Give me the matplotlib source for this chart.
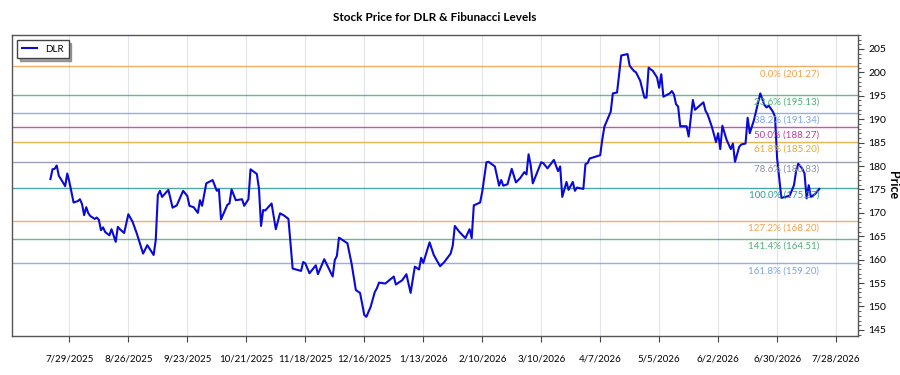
import matplotlib
matplotlib.use("Agg")
import matplotlib.pyplot as plt
from matplotlib.ticker import MultipleLocator
import pandas as pd

plt.rcParams['font.family'] = ['Lato', 'DejaVu Sans']

# DLR closes
dates = [
    "2025-07-20", "2025-07-21", "2025-07-22", "2025-07-23", "2025-07-24", "2025-07-25", "2025-07-27", "2025-07-28",
    "2025-07-29", "2025-07-31", "2025-08-02", "2025-08-03", "2025-08-04", "2025-08-05", "2025-08-06", "2025-08-07",
    "2025-08-08", "2025-08-10", "2025-08-11", "2025-08-12", "2025-08-13", "2025-08-14", "2025-08-15", "2025-08-17",
    "2025-08-18", "2025-08-20", "2025-08-21", "2025-08-22", "2025-08-24", "2025-08-26", "2025-08-28", "2025-08-30",
    "2025-09-02", "2025-09-04", "2025-09-05", "2025-09-07", "2025-09-08", "2025-09-09", "2025-09-10", "2025-09-11",
    "2025-09-14", "2025-09-16", "2025-09-18", "2025-09-21", "2025-09-23", "2025-09-24", "2025-09-26", "2025-09-28",
    "2025-09-29", "2025-09-30", "2025-10-02", "2025-10-05", "2025-10-07", "2025-10-08", "2025-10-09", "2025-10-12",
    "2025-10-13", "2025-10-14", "2025-10-16", "2025-10-19", "2025-10-20", "2025-10-22", "2025-10-23", "2025-10-26",
    "2025-10-27", "2025-10-28", "2025-10-29", "2025-10-30", "2025-11-02", "2025-11-04", "2025-11-06", "2025-11-08",
    "2025-11-10", "2025-11-12", "2025-11-16", "2025-11-17", "2025-11-18", "2025-11-20", "2025-11-23", "2025-11-24",
    "2025-11-27", "2025-12-01", "2025-12-02", "2025-12-03", "2025-12-04", "2025-12-08", "2025-12-10", "2025-12-12",
    "2025-12-14", "2025-12-16", "2025-12-17", "2025-12-19", "2025-12-21", "2025-12-22", "2025-12-23", "2025-12-26",
    "2025-12-30", "2025-12-31", "2026-01-03", "2026-01-05", "2026-01-07", "2026-01-09", "2026-01-11", "2026-01-12",
    "2026-01-13", "2026-01-16", "2026-01-18", "2026-01-21", "2026-01-23", "2026-01-26", "2026-01-27", "2026-01-28",
    "2026-01-30", "2026-02-02", "2026-02-04", "2026-02-05", "2026-02-06", "2026-02-09", "2026-02-10", "2026-02-12",
    "2026-02-13", "2026-02-16", "2026-02-18", "2026-02-19", "2026-02-20", "2026-02-22", "2026-02-24", "2026-02-26",
    "2026-02-28", "2026-03-02", "2026-03-03", "2026-03-04", "2026-03-05", "2026-03-06", "2026-03-10", "2026-03-11",
    "2026-03-13", "2026-03-16", "2026-03-18", "2026-03-19", "2026-03-20", "2026-03-22", "2026-03-23", "2026-03-25",
    "2026-03-26", "2026-03-27", "2026-03-30", "2026-03-31", "2026-04-01", "2026-04-02", "2026-04-07", "2026-04-08",
    "2026-04-09", "2026-04-12", "2026-04-13", "2026-04-15", "2026-04-17", "2026-04-20", "2026-04-21", "2026-04-23",
    "2026-04-24", "2026-04-26", "2026-04-28", "2026-04-29", "2026-04-30", "2026-05-02", "2026-05-04", "2026-05-05",
    "2026-05-06", "2026-05-07", "2026-05-10", "2026-05-11", "2026-05-12", "2026-05-13", "2026-05-14", "2026-05-15",
    "2026-05-18", "2026-05-19", "2026-05-21", "2026-05-22", "2026-05-26", "2026-05-27", "2026-05-28", "2026-05-30",
    "2026-06-01", "2026-06-02", "2026-06-03", "2026-06-04", "2026-06-06", "2026-06-08", "2026-06-09", "2026-06-10",
    "2026-06-12", "2026-06-13", "2026-06-15", "2026-06-16", "2026-06-17", "2026-06-19", "2026-06-22", "2026-06-24",
    "2026-06-25", "2026-06-26", "2026-06-28", "2026-06-29", "2026-06-30", "2026-07-02", "2026-07-04", "2026-07-06",
    "2026-07-08", "2026-07-09", "2026-07-10", "2026-07-12", "2026-07-13", "2026-07-14", "2026-07-15", "2026-07-16",
    "2026-07-18", "2026-07-20",
]
prices = [
    177.2, 179.3, 179.4, 180.1, 177.9, 177.2, 175.7, 178.4,
    176.6, 172.2, 172.5, 172.9, 171.9, 169.5, 171.2, 169.9,
    169.3, 168.7, 169.0, 168.5, 166.3, 166.9, 165.9, 165.2,
    166.5, 163.8, 167.0, 166.5, 165.7, 169.7, 168.1, 165.6,
    161.3, 163.1, 162.4, 161.0, 164.2, 173.8, 174.7, 173.4,
    174.9, 171.1, 171.6, 174.7, 173.6, 171.5, 171.2, 170.0,
    172.7, 171.5, 176.3, 177.0, 174.7, 175.0, 168.6, 171.7,
    172.0, 175.0, 172.7, 172.9, 171.5, 172.9, 179.3, 178.3,
    175.2, 167.2, 170.6, 170.5, 172.0, 166.5, 169.9, 169.4,
    168.7, 158.1, 157.6, 159.5, 159.2, 157.1, 158.8, 156.9,
    160.1, 156.4, 159.9, 160.8, 164.7, 163.5, 159.1, 153.5,
    152.9, 148.2, 147.8, 149.9, 153.1, 153.9, 155.1, 154.9,
    156.4, 154.7, 155.6, 156.9, 152.9, 158.5, 157.9, 160.4,
    159.3, 163.7, 161.0, 158.6, 159.5, 161.3, 163.0, 167.2,
    166.0, 164.6, 166.5, 164.6, 171.6, 172.2, 174.5, 180.8,
    180.9, 179.9, 175.8, 177.0, 175.8, 176.1, 179.4, 176.5,
    177.4, 178.7, 178.2, 182.5, 180.2, 176.3, 180.8, 180.6,
    179.5, 181.3, 178.9, 179.9, 173.4, 176.6, 174.9, 176.6,
    174.7, 175.4, 175.1, 180.4, 180.6, 181.6, 182.3, 185.7,
    188.4, 191.6, 195.5, 195.7, 203.6, 203.9, 201.4, 200.3,
    200.0, 198.2, 194.6, 194.6, 201.0, 200.3, 198.9, 196.7,
    199.6, 194.8, 195.5, 196.0, 195.3, 193.2, 192.7, 188.5,
    188.5, 186.3, 194.1, 192.0, 193.6, 191.8, 191.0, 188.4,
    185.1, 187.0, 183.6, 188.6, 185.6, 183.6, 184.8, 180.9,
    184.1, 184.6, 184.8, 190.3, 187.0, 189.8, 195.5, 193.0,
    192.5, 192.9, 191.6, 190.5, 181.6, 173.2, 173.4, 173.7,
    175.9, 178.9, 180.5, 179.4, 178.4, 173.1, 175.9, 173.4,
    174.0, 175.1,
]

fib_pcts = [0.0, 23.6, 38.2, 50.0, 61.8, 78.6, 100.0, 127.2, 141.4, 161.8]
fib_prices = [201.27, 195.13, 191.34, 188.27, 185.20, 180.83, 175.27, 168.20, 164.51, 159.20]
fib_colors = ['#f5a04a', '#4fae78', '#7aa4e6', '#c2389a', '#e6a83a',
              '#8a90a8', '#2a9a98', '#f5a04a', '#4fae78', '#7aa4e6']

tick_dates = pd.date_range("2025-07-29", periods=14, freq="28D")

dates = pd.to_datetime(dates)

fig = plt.figure(figsize=(9, 3.75), dpi=100)
ax = fig.add_axes([0.0133, 0.104, 0.9397, 0.803])

ax.plot(dates, prices, color='#0a0ad8', linewidth=1.5, label='DLR', zorder=3)

for pct, lvl, col in zip(fib_pcts, fib_prices, fib_colors):
    ax.axhline(lvl, color=col, linewidth=1.0, alpha=0.85, zorder=2)
    ax.text(dates[-1], lvl - 0.6, f"{pct:.1f}% ({lvl:.2f})", color=col,
            fontsize=7, ha='right', va='top', zorder=4)

ax.set_ylim(143.7, 208.0)
ax.yaxis.tick_right()
ax.yaxis.set_label_position('right')
ax.yaxis.set_major_locator(MultipleLocator(5))
ax.yaxis.set_minor_locator(MultipleLocator(1))
ax.tick_params(axis='y', which='major', labelsize=7.5, length=4, color='#444444')
ax.tick_params(axis='y', which='minor', length=2, color='#444444')
ax.set_ylabel('Price', fontsize=9, fontweight='bold', rotation=270, labelpad=9)

ax.set_xticks(tick_dates)
ax.set_xticklabels([f"{d.month}/{d.day}/{d.year}" for d in tick_dates])
ax.tick_params(axis='x', labelsize=7, length=4, pad=9, color='#444444')
ax.grid(axis='x', color='#e3e3ea', linewidth=0.8)

for s in ax.spines.values():
    s.set_color('#555555')
    s.set_linewidth(1.0)

ax.set_title('Stock Price for DLR & Fibunacci Levels', fontsize=8.5, fontweight='bold', pad=10)

leg = ax.legend(loc='upper left', fontsize=7, fancybox=False, shadow=True,
                handlelength=1.6, borderpad=0.5)
leg.get_frame().set_edgecolor('#444444')
leg.get_frame().set_linewidth(1.0)

fig.savefig('out.png', dpi=100)
